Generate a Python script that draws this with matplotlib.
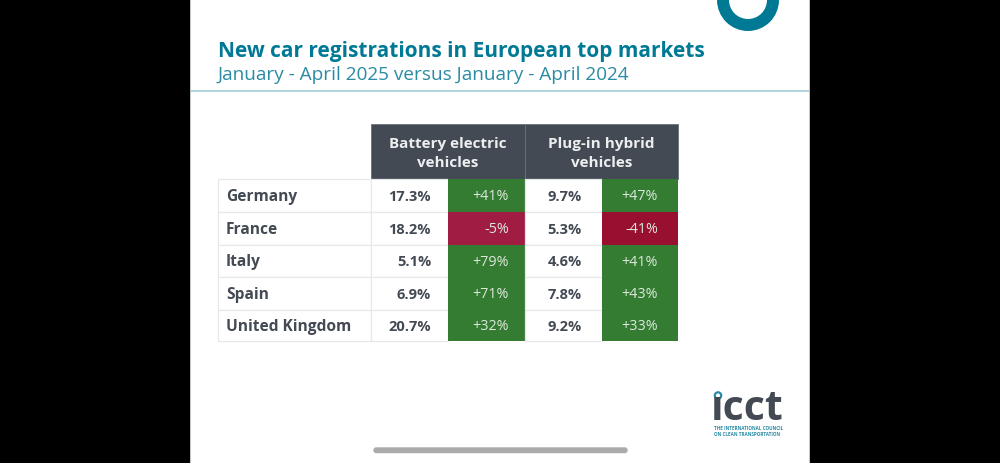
import matplotlib
matplotlib.use("Agg")
import matplotlib.pyplot as plt
from matplotlib.patches import Rectangle, Circle, Wedge, FancyBboxPatch

plt.rcParams['font.family'] = ['Open Sans', 'DejaVu Sans']

# data
countries = ["Germany", "France", "Italy", "Spain", "United Kingdom"]
bev_share = [17.3, 18.2, 5.1, 6.9, 20.7]
bev_change = [41, -5, 79, 71, 32]
phev_share = [9.7, 5.3, 4.6, 7.8, 9.2]
phev_change = [47, -41, 41, 43, 33]
headers = ["Battery electric\nvehicles", "Plug-in hybrid\nvehicles"]
title = "New car registrations in European top markets"
subtitle = "January - April 2025 versus January - April 2024"

# colours
TEAL = "#007A94"
DARK = "#434A54"
GREEN = "#347C32"
RED_SOFT = "#A01C42"
RED_STRONG = "#980F30"
GRID = "#E6E8EA"

# table layout in pixels
col_x = [218, 371, 448, 525, 602, 678]
row_y = [179, 212, 244.5, 277, 309.5, 341]
head_top = 124
share_right = [431, 582]
change_right = [509, 658]


def cell(ax, x0, x1, y0, y1, color):
    ax.add_patch(Rectangle((x0, y0), x1 - x0, y1 - y0, facecolor=color,
                           edgecolor=GRID if color == "white" else "none", lw=0.9))


def change_color(v):
    if v >= 0:
        return GREEN
    return RED_STRONG if v < -20 else RED_SOFT


def fmt_change(v):
    return f"{v:+d}%"


fig = plt.figure(figsize=(10, 4.63), dpi=100, facecolor="black")
ax = fig.add_axes([0, 0, 1, 1])
ax.set_xlim(0, 1000)
ax.set_ylim(463, 0)
ax.axis("off")

# white slide on black screen
ax.add_patch(Rectangle((190, 0), 620, 463, facecolor="white", edgecolor="none"))
ax.add_patch(Rectangle((190, 0), 1, 463, facecolor="#C4C4C4", edgecolor="none"))
ax.add_patch(Rectangle((809, 0), 1, 463, facecolor="#C4C4C4", edgecolor="none"))

# ring at the top (y axis is flipped, so 0-180 is the lower half)
ax.add_patch(Wedge((748, 0), 31, 0, 180, width=12, facecolor=TEAL, edgecolor="none"))

# heading
ax.text(218, 52, title, color=TEAL, fontsize=15.0, fontweight="bold", va="center", ha="left")
ax.text(218, 74.5, subtitle, color="#2A8BA3", fontsize=13.7, va="center", ha="left")
ax.plot([191, 809], [91, 91], color="#A3CBD6", lw=1.2)

# header cells
for i, label in enumerate(headers):
    x0, x1 = col_x[1 + 2 * i], col_x[3 + 2 * i]
    ax.add_patch(Rectangle((x0, head_top), x1 - x0, row_y[0] - head_top, facecolor=DARK,
                           edgecolor="#6A7079", lw=0.6))
    ax.text((x0 + x1) / 2, 153.5, label, color="#EDEEF0", fontsize=11, fontweight="bold",
            ha="center", va="center", linespacing=1.4)

# rows
for r, name in enumerate(countries):
    y0, y1 = row_y[r], row_y[r + 1]
    ym = (y0 + y1) / 2 + 1.5
    cell(ax, col_x[0], col_x[1], y0, y1, "white")
    ax.text(226, ym, name, color=DARK, fontsize=11.2, fontweight="bold", ha="left", va="center")
    pairs = [(bev_share[r], bev_change[r], 1), (phev_share[r], phev_change[r], 3)]
    for k, (share, change, c) in enumerate(pairs):
        cell(ax, col_x[c], col_x[c + 1], y0, y1, "white")
        cell(ax, col_x[c + 1], col_x[c + 2], y0, y1, change_color(change))
        ax.text(share_right[k], ym, f"{share:.1f}%", color=DARK, fontsize=10.5,
                fontweight="bold", ha="right", va="center")
        ax.text(change_right[k], ym, fmt_change(change), color="#DDE8DC", fontsize=10.3,
                ha="right", va="center")

# logo
ax.add_patch(Circle((718, 395.5), 3.2, facecolor="white", edgecolor="#2A8BA3", lw=1.6))
ax.text(711, 409.5, "\u0131cct", color=DARK, fontsize=29.5, fontweight="bold", ha="left", va="center")
ax.text(714, 429, "THE INTERNATIONAL COUNCIL", color="#2A8BA3", fontsize=3.3, fontweight="bold",
        ha="left", va="center")
ax.text(714, 434.5, "ON CLEAN TRANSPORTATION", color="#2A8BA3", fontsize=3.3, fontweight="bold",
        ha="left", va="center")

# phone home bar
ax.add_patch(FancyBboxPatch((374, 448), 253, 4.5, boxstyle="round,pad=0,rounding_size=2.2",
                            facecolor="#ABABAB", edgecolor="#ABABAB", lw=1))

fig.savefig("out.png", dpi=100, facecolor="black")
